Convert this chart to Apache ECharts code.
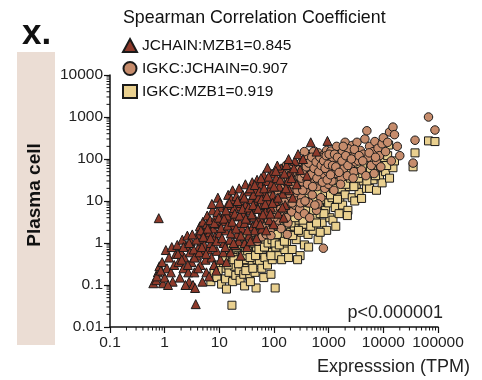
<!DOCTYPE html>
<html style="height: 100%">
<head>
  <meta charset="utf-8">
  <title>Plasma cell correlation</title>
  <script src="https://cdn.jsdelivr.net/npm/echarts@6.0.0/dist/echarts.min.js"></script>
</head>
<body style="margin:0;height:100%;background:#fff">
  <div id="main" style="width:482px;height:380px"></div>
  <script>
    // values: [expression TPM, expression TPM]
    var jchainMzb1 = [
      [0.62,0.11],[0.7,0.13],[0.75,0.2],[0.8,0.28],[0.72,0.16],[0.93,0.11],[1.0,0.15],[0.9,0.35],[1.1,0.25],[1.05,0.68],
      [1.2,0.45],[1.3,0.2],[1.4,0.12],[1.5,0.3],[1.6,0.55],[1.35,0.8],[0.85,0.22],[1.15,0.1],[0.78,3.9],
      [1.7,0.9],[1.8,0.35],[1.9,0.15],[2.0,0.6],[2.1,1.2],[2.2,0.25],[2.3,0.45],[2.5,0.85],[2.6,1.5],[2.7,0.2],
      [2.8,0.12],[2.9,0.6],[3.0,1.1],[3.1,0.35],[2.4,0.1],[1.75,0.55],[2.05,0.4],[2.65,0.3],
      [3.3,0.1],[3.5,0.2],[3.6,0.085],[3.7,0.035],[3.9,0.5],[4.0,1.6],[4.2,0.8],[4.4,2.5],[4.5,0.3],[4.7,1.1],
      [4.9,0.12],[5.0,3.2],[5.2,0.6],[5.5,1.9],[5.6,0.4],[5.8,0.2],[6.0,4.5],[6.2,1.3],[3.4,0.7],[4.1,0.25],
      [5.3,0.9],[3.8,1.2],[4.6,2.0],[5.9,2.8],[6.3,0.7],
      [6.5,0.16],[6.8,3.5],[7.0,1.0],[7.2,0.45],[7.5,6],[7.8,2.2],[8.0,0.3],[8.3,1.4],[8.6,4.2],[9.0,0.65],
      [9.4,12],[9.6,2.8],[10,1.7],[10.5,0.4],[11,7],[11.5,3.3],[12,1.0],[12.5,5],[7.3,8.5],[8.8,0.22],
      [10.2,9],[11.8,0.6],[6.6,1.8],[9.2,5.5],
      [13,2],[13.5,0.35],[14,8],[14.5,14],[15,3.8],[15.5,1.2],[16,0.6],[17,5.5],[17.5,18],[18,2.6],
      [19,10],[19.5,0.9],[20,4.3],[21,1.6],[22,7.5],[23,20],[24,3],[24.5,0.5],[13.8,4.5],[16.5,11],
      [18.5,6.8],[20.5,13],[22.5,1.1],[25,9],
      [26,2.2],[27,14],[28,5],[29,1.0],[30,25],[31,8.5],[33,3.5],[34,17],[35,1.5],[36,6],
      [38,11],[40,28],[41,2.5],[43,4.2],[45,9],[46,18],[48,1.3],[49,32],[32,0.8],[37,1.1],
      [42,14],[47,6.5],[29,3],[44,2],
      [52,12],[55,4],[57,25],[60,2.2],[62,8],[65,42],[68,15],[70,5.5],[73,30],[76,62],
      [78,10],[82,3.5],[85,20],[88,7],[92,45],[95,14],[98,2.8],[58,35],[72,2.0],[90,26],
      [105,10],[110,35],[120,5],[125,22],[135,60],[145,15],[160,8],[170,72],[180,30],[200,48],
      [220,12],[240,90],[260,25],[275,130],[300,55],[150,4],[190,18],[115,70],
      [340,100],[470,250],[950,270],[400,40],[600,150],
      [2.2,0.8],[2.8,1.0],[3.2,1.6],[3.5,0.45],[4.3,0.6],[4.8,0.8],[5.1,1.4],[5.7,0.55],[6.1,2.2],[6.9,1.3],
      [7.6,0.8],[8.1,3],[8.9,1.1],[9.8,4],[10.8,2.3],[11.2,1.3],[12.2,3.8],[12.8,0.8],[13.2,6],[14.2,2.6],
      [15.2,9],[16.2,1.7],[17.2,3.2],[18.2,1.0],[19.2,5],[20.2,2.2],[21.5,10],[23.5,4.5],[24.8,1.5],[26.5,6.5],
      [28.5,12],[30.5,3.8],[32.5,2],[34.5,7],[36.5,20],[39,4.8],[41.5,8],[44.5,24],[47.5,3],[51,6.5],
      [54,17],[56,2.8],[59,11],[63,4.8],[66,20],[69,8.5],[74,13],[80,38],[86,5],[94,9],
      [100,22],[108,52],[118,12],[130,32],[142,7],[155,45],[165,20],[185,100],[210,35],[230,60]
    ];

    var igkcJchain = [
      [32,1.0],[35,1.3],[40,1.8],[45,2.5],[50,1.1],[55,3.2],[60,1.4],[62,5],[68,2.4],[72,1.6],
      [75,7],[80,3.5],[85,2.0],[90,10],[95,5],[60,8.5],[78,14],[88,1.5],
      [105,2.7],[110,6],[115,18],[120,3.5],[125,9],[130,30],[140,4.5],[145,13],[150,50],[160,7],
      [165,22],[170,72],[180,3],[185,35],[190,11],[200,60],[210,5.5],[220,17],[230,42],[240,8],
      [250,26],[260,70],[270,13],[280,4.5],[290,38],[300,20],[310,80],[135,2.2],[175,1.6],[205,28],
      [255,10],[295,6.5],
      [320,12],[330,55],[340,28],[350,90],[360,5],[380,18],[400,40],[420,110],[440,9],[460,24],
      [480,65],[500,14],[520,35],[550,100],[580,48],[600,6],[620,22],[650,140],[680,75],[700,30],
      [720,12],[750,55],[780,120],[820,40],[850,20],[880,85],[920,160],[960,50],[990,25],[800,0.75],
      [450,4],[530,150],[640,8.5],[360,150],
      [1050,60],[1100,155],[1150,30],[1200,100],[1300,45],[1400,200],[1500,75],[1600,110],[1700,35],[1800,150],
      [1900,60],[2000,250],[2100,90],[2200,40],[2400,130],[2500,70],[2700,210],[2900,50],[3000,120],[3100,85],
      [1250,18],[1650,25],[2300,175],[2800,35],
      [3300,250],[3500,90],[3800,160],[4000,55],[4300,130],[4600,300],[5000,470],[5300,110],[5600,200],[6000,70],
      [6500,150],[7000,260],[7500,90],[8000,180],[8500,120],[9000,65],[9500,230],[10000,320],[4800,40],[6800,45],
      [11000,150],[12000,250],[13000,440],[14000,90],[15000,575],[16000,380],[18000,200],[20000,120],
      [35000,80],[38000,280],[67000,1000],[88000,490],
      [100,4],[112,10],[122,25],[132,6.5],[148,20],[155,9.5],[168,4],[178,15],[195,40],[215,9],
      [225,25],[245,50],[265,18],[285,55],[305,9],[315,35],[335,18],[355,45],[370,10],[390,65],
      [410,25],[430,80],[470,42],[490,110],[510,22],[540,60],[560,8],[590,85],[610,35],[660,50],
      [690,110],[730,70],[770,28],[810,90],[860,60],[900,120],[940,32],[980,75],[1020,130],[1080,42],
      [1180,70],[1280,130],[1350,65],[1450,110],[1550,48],[1750,90],[1850,200],[2050,120],[2250,70],[2600,100],
      [2950,170],[3600,120],[4200,90],[5500,140],[7200,110]
    ];

    var igkcMzb1 = [
      [7,0.12],[8,0.2],[9,0.15],[10,0.3],[11,0.105],[11.5,0.4],[12,0.25],[13,0.14],[14,0.5],[15,0.2],
      [16,0.35],[17,0.033],[17.5,0.12],[18,0.6],[19,0.28],[20,0.17],[13.5,0.08],[16.5,0.75],
      [21,0.45],[22,0.9],[23,0.22],[24,0.13],[25,0.6],[26,0.32],[27,1.1],[28,0.18],[30,0.75],[31,0.4],
      [32,0.25],[34,1.3],[35,0.55],[36,0.16],[38,0.9],[40,0.3],[42,0.6],[44,1.5],[45,0.2],[47,0.085],
      [48,0.8],[49,0.4],[29,0.095],[37,0.12],
      [52,1.2],[54,0.35],[56,2],[58,0.6],[60,0.25],[63,1.0],[66,2.8],[68,0.45],[70,1.6],[73,0.8],
      [76,0.3],[80,3.5],[83,1.2],[86,0.6],[90,2.2],[93,0.4],[96,4.5],[100,1.5],[105,0.085],[108,0.8],
      [112,3],[118,0.5],[122,2],[128,5.5],[133,1],[138,0.4],[143,3.5],[148,1.5],[152,6.5],[158,0.7],
      [65,0.15],[88,0.18],
      [165,2.5],[170,1],[178,8],[185,0.45],[190,4],[200,1.8],[210,11],[215,0.7],[225,5.5],[235,2.5],
      [245,14],[255,1.2],[265,7],[275,3.5],[290,18],[300,0.5],[310,10],[320,1.8],[330,5],[345,20],
      [360,0.9],[375,8],[390,3],[405,12],[420,1.6],[440,6],[460,20],[480,3.8],[500,10],[350,2.8],
      [270,0.4],[430,0.8],
      [520,2],[550,15],[580,4.5],[610,25],[640,1.2],[680,8],[720,18],[760,3],[800,11],[840,30],
      [880,6],[920,2],[970,16],[1000,9],[1050,4],[1100,22],[1150,12],[1200,3.5],[1260,35],[1320,7],
      [1400,18],[1480,28],[1550,5],[1600,12],[700,1.8],[1020,40],[1350,2.5],
      [1700,20],[1800,8],[1900,45],[2000,14],[2100,30],[2250,6],[2400,22],[2550,55],[2700,12],[2850,38],
      [3000,10],[3200,25],[3400,60],[3600,16],[3800,40],[4000,11.5],[4300,30],[4600,70],[4900,20],[2200,4.5],
      [3100,50],
      [5300,45],[5600,20],[6000,80],[6500,32],[7000,55],[7500,18],[8000,100],[8500,40],[9000,65],[9500,27],
      [10000,85],[11000,50],[12000,120],[13000,35],[14000,70],[15000,62],[16000,90],[12500,215],[6200,130],
      [35000,65],[38000,140],[67000,270],[88000,260],
      [9.5,0.22],[12.5,0.45],[14.5,0.3],[18.5,0.4],[20.5,0.8],[22.5,0.32],[24.5,0.9],[26.5,0.5],[28.5,1.4],[30.5,0.22],
      [33,0.65],[36.5,0.45],[39,1.9],[41,0.25],[43,1.0],[46,0.5],[50,1.8],[53,0.7],[57,1.2],[62,2.2],
      [67,0.8],[72,3.2],[78,1.0],[82,2],[88,0.5],[92,1.2],[98,3],[104,1.0],[115,1.6],[125,0.9],
      [135,2.5],[145,5],[155,1.1],[172,3.5],[182,1.6],[195,9],[205,3],[220,1.5],[240,4],[260,10],
      [280,2],[305,6],[325,13],[340,3.5],[370,15],[395,6],[415,25],[450,9],[470,2.5],[530,6],
      [570,11],[600,3],[650,15],[700,5],[750,28],[820,5],[860,16],[950,25],[1080,14],[1220,20],
      [1450,11],[1750,35],[2050,25],[2500,35],[2900,22],[3500,35],[4200,45],[5000,30],[5800,60],[7200,40],
      [8800,70],[11500,70]
    ];

    var seriesNames = ['JCHAIN:MZB1=0.845', 'IGKC:JCHAIN=0.907', 'IGKC:MZB1=0.919'];
    var xDecades = [0.1, 1, 10, 100, 1000, 10000];
    var yDecades = [0.01, 0.1, 1, 10, 100, 1000];
    var minorSteps = [2, 3, 4, 5, 6, 7, 8, 9];

    var font = '"Liberation Sans", Arial, sans-serif';

    var xMinor = [];
    xDecades.forEach(function (d) { minorSteps.forEach(function (m) { xMinor.push([d * m, 0.01]); }); });
    var yMinor = [];
    yDecades.forEach(function (d) { minorSteps.forEach(function (m) { yMinor.push([0.1, d * m]); }); });

    function fmt(v) { return String(+(+v).toPrecision(6)); }

    function tickSeries(name, data, horizontal) {
      return {
        type: 'custom', name: name, silent: true, z: 5, clip: false,
        data: data,
        renderItem: function (params, api) {
          var p = api.coord([api.value(0), api.value(1)]);
          var shape = horizontal
            ? { x1: p[0], y1: p[1], x2: p[0], y2: p[1] + 3.5 }
            : { x1: p[0] - 3.5, y1: p[1], x2: p[0], y2: p[1] };
          return { type: 'line', shape: shape, style: { stroke: '#111', lineWidth: 1 } };
        }
      };
    }

    var chart = echarts.init(document.getElementById('main'));
    chart.setOption({
      animation: false,
      textStyle: { fontFamily: font },
      title: {
        text: 'Spearman Correlation Coefficient',
        left: 123, top: 9, padding: 0,
        textStyle: { fontSize: 17.8, fontWeight: 'normal', color: '#111', fontFamily: font }
      },
      legend: {
        orient: 'vertical', left: 122, top: 37, padding: 0,
        itemWidth: 14, itemHeight: 13, itemGap: 6,
        textStyle: { fontSize: 15.5, color: '#111', fontFamily: font, lineHeight: 17 },
        data: [
          { name: seriesNames[0], icon: 'triangle' },
          { name: seriesNames[1], icon: 'circle' },
          { name: seriesNames[2], icon: 'rect' }
        ]
      },
      grid: { left: 110, right: 44, top: 75, bottom: 53 },
      xAxis: {
        type: 'log', logBase: 10, min: 0.1, max: 100000,
        axisLine: { lineStyle: { color: '#111', width: 1.5 } },
        axisTick: { length: 6, lineStyle: { color: '#111', width: 1.2 } },
        splitLine: { show: false },
        axisLabel: { fontSize: 15.5, color: '#222', margin: 8, formatter: fmt }
      },
      yAxis: {
        type: 'log', logBase: 10, min: 0.01, max: 10000,
        axisLine: { lineStyle: { color: '#111', width: 1.5 } },
        axisTick: { length: 6, lineStyle: { color: '#111', width: 1.2 } },
        splitLine: { show: false },
        axisLabel: { fontSize: 15.5, color: '#222', margin: 7, formatter: fmt }
      },
      graphic: [
        { type: 'rect', left: 17, top: 52, shape: { width: 38, height: 293 }, style: { fill: '#ebddd4' }, z: -1 },
        {
          type: 'text', x: 35, y: 195, rotation: Math.PI / 2,
          style: { text: 'Plasma cell', fill: '#111', align: 'center', verticalAlign: 'middle', font: 'bold 19px ' + font }
        },
        { type: 'text', x: 22, y: 34, style: { text: 'x.', font: 'bold 35px ' + font, fill: '#111', verticalAlign: 'middle' } },
        { type: 'text', x: 443, y: 313, style: { text: 'p<0.000001', font: '18px ' + font, fill: '#222', align: 'right', verticalAlign: 'middle' } },
        { type: 'text', x: 470, y: 367, style: { text: 'Expresssion (TPM)', font: '18px ' + font, fill: '#222', align: 'right', verticalAlign: 'middle' } }
      ],
      series: [
        {
          type: 'scatter', name: seriesNames[2], data: igkcMzb1, symbol: 'rect', symbolSize: 8,
          itemStyle: { color: '#e9d08f', borderColor: '#1a1a1a', borderWidth: 1, opacity: 1 }
        },
        {
          type: 'scatter', name: seriesNames[1], data: igkcJchain, symbol: 'circle', symbolSize: 8.5,
          itemStyle: { color: '#c68c6c', borderColor: '#1a1a1a', borderWidth: 1, opacity: 1 }
        },
        {
          type: 'scatter', name: seriesNames[0], data: jchainMzb1, symbol: 'triangle', symbolSize: 9,
          itemStyle: { color: '#8e3a2b', borderColor: '#1a1a1a', borderWidth: 1, opacity: 1 }
        },
        tickSeries('_xminor', xMinor, true),
        tickSeries('_yminor', yMinor, false)
      ]
    });
  </script>
</body>
</html>
